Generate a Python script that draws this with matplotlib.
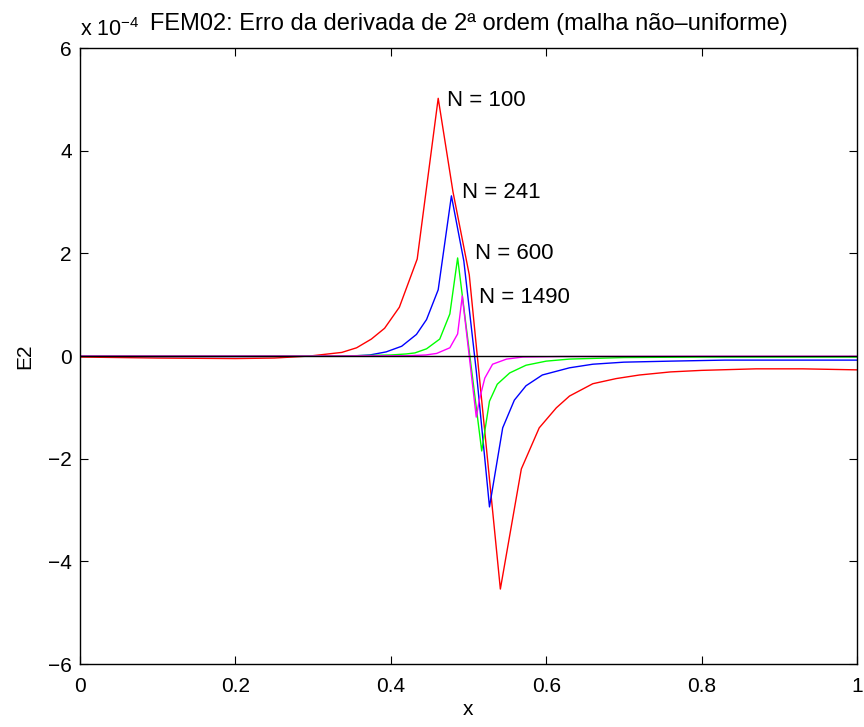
import matplotlib
matplotlib.use('Agg')
import matplotlib.pyplot as plt

plt.rcParams['font.family'] = ['Liberation Sans', 'DejaVu Sans']
plt.rcParams['mathtext.fontset'] = 'custom'
plt.rcParams['mathtext.rm'] = 'Liberation Sans'
plt.rcParams['mathtext.it'] = 'Liberation Sans'

# E2 values in units of 1e-4
x_n100 = [0.0, 0.05, 0.10, 0.15, 0.20, 0.25, 0.296, 0.337, 0.356, 0.375, 0.392, 0.411, 0.434, 0.461,
          0.480, 0.501, 0.541, 0.568, 0.591, 0.613, 0.630, 0.660, 0.690, 0.720, 0.760, 0.800, 0.870, 0.930, 1.0]
e_n100 = [-0.02, -0.03, -0.04, -0.045, -0.05, -0.04, 0.0, 0.07, 0.16, 0.33, 0.54, 0.95, 1.89, 5.02,
          3.20, 1.58, -4.54, -2.20, -1.40, -1.01, -0.78, -0.54, -0.44, -0.37, -0.31, -0.28, -0.25, -0.25, -0.27]

x_n241 = [0.0, 0.10, 0.20, 0.30, 0.350, 0.373, 0.394, 0.414, 0.433, 0.446, 0.461, 0.478,
          0.494, 0.510, 0.527, 0.544, 0.559, 0.574, 0.595, 0.630, 0.660, 0.700, 0.760, 0.830, 1.0]
e_n241 = [-0.005, -0.01, -0.01, -0.005, 0.0, 0.02, 0.08, 0.19, 0.42, 0.71, 1.29, 3.12,
          1.85, -0.29, -2.94, -1.40, -0.86, -0.58, -0.37, -0.23, -0.16, -0.12, -0.10, -0.08, -0.08]

x_n600 = [0.0, 0.20, 0.35, 0.400, 0.420, 0.431, 0.446, 0.463, 0.476, 0.486,
          0.517, 0.527, 0.537, 0.553, 0.574, 0.600, 0.630, 0.700, 0.800, 1.0]
e_n600 = [0.0, 0.0, 0.005, 0.02, 0.04, 0.06, 0.14, 0.33, 0.82, 1.91,
          -1.85, -0.88, -0.55, -0.33, -0.18, -0.10, -0.06, -0.03, -0.02, -0.02]

x_n1490 = [0.0, 0.30, 0.420, 0.445, 0.459, 0.476, 0.486, 0.492,
           0.510, 0.514, 0.521, 0.531, 0.549, 0.570, 0.620, 0.800, 1.0]
e_n1490 = [0.0, 0.0, 0.005, 0.02, 0.05, 0.16, 0.43, 1.17,
           -1.19, -0.85, -0.43, -0.16, -0.06, -0.02, -0.01, -0.005, -0.005]

labels = ['N = 100', 'N = 241', 'N = 600', 'N = 1490']
label_x = [0.472, 0.492, 0.508, 0.513]
label_y = [4.97, 3.18, 1.99, 1.13]

fig = plt.figure(figsize=(8.64, 7.27), dpi=100)
ax = fig.add_axes([80/864, 1 - 664/727, 777/864, 616/727])

ax.plot(x_n100, e_n100, color='#ff0000', lw=1.0)
ax.plot(x_n241, e_n241, color='#0000ff', lw=1.0)
ax.plot(x_n600, e_n600, color='#00ff00', lw=1.0)
ax.plot(x_n1490, e_n1490, color='#ff00ff', lw=1.0)
ax.plot([0, 1], [0, 0], color='black', lw=1.0)

for lab, lx, ly in zip(labels, label_x, label_y):
    ax.text(lx, ly, lab, fontsize=16, ha='left', va='center')

ax.set_xlim(0, 1)
ax.set_ylim(-6, 6)
ax.set_xticks([0, 0.2, 0.4, 0.6, 0.8, 1])
ax.set_xticklabels(['0', '0.2', '0.4', '0.6', '0.8', '1'])
ax.set_yticks([-6, -4, -2, 0, 2, 4, 6])
ax.tick_params(direction='in', length=6, width=0.8, labelsize=15, top=True, right=True)
ax.tick_params(axis='x', pad=9)
ax.tick_params(axis='y', pad=6)
for s in ax.spines.values():
    s.set_linewidth(1.0)

ax.set_xlabel('x', fontsize=15, labelpad=3)
ax.set_ylabel('E2', fontsize=15, labelpad=10)
ax.set_title('FEM02: Erro da derivada de 2ª ordem (malha não\u2013uniforme)', fontsize=17, pad=13)
ax.text(0.0, 1.0195, r'x 10$^{-4}$', transform=ax.transAxes, fontsize=15.5, ha='left', va='baseline')

fig.savefig('out.png', dpi=100)
